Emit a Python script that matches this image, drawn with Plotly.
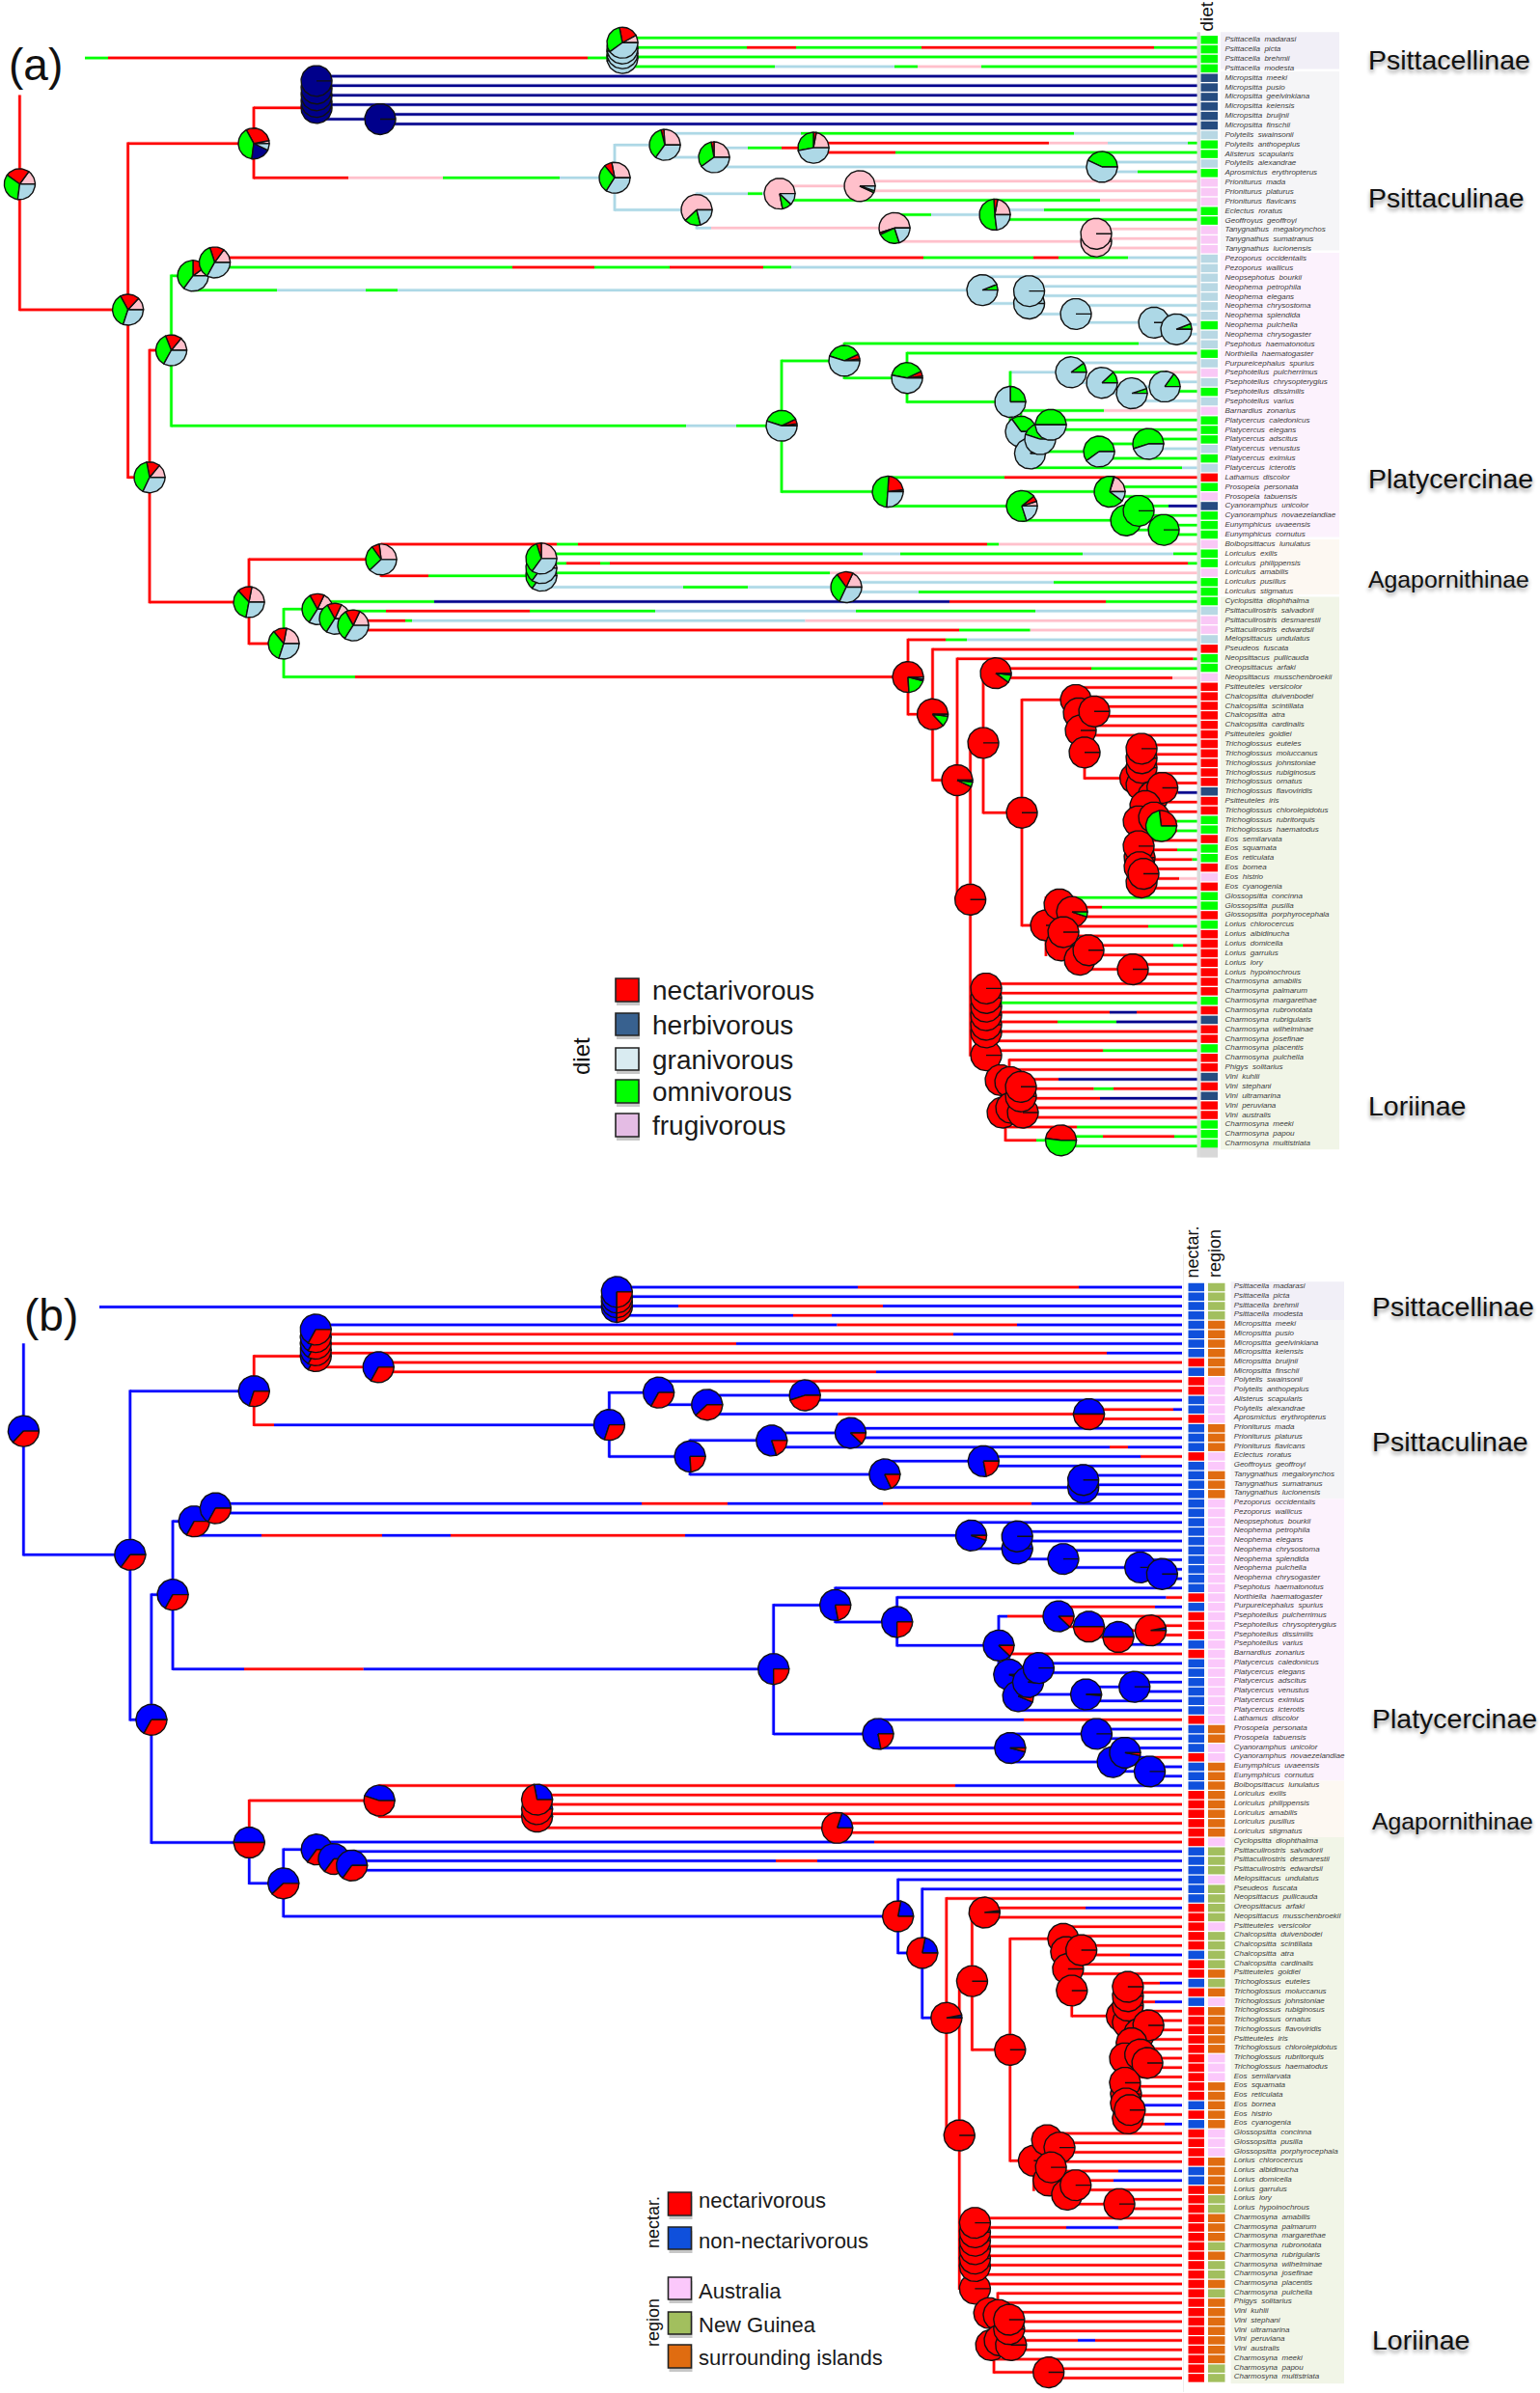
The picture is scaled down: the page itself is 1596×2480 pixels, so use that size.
import math
import plotly.graph_objects as go

# ---------- tips ----------
tip_names = """Psittacella madarasi|Psittacella picta|Psittacella brehmii|Psittacella modesta|Micropsitta meeki|Micropsitta pusio|Micropsitta geelvinkiana|Micropsitta keiensis|Micropsitta bruijnii|Micropsitta finschii|Polytelis swainsonii|Polytelis anthopeplus|Alisterus scapularis|Polytelis alexandrae|Aprosmictus erythropterus|Prioniturus mada|Prioniturus platurus|Prioniturus flavicans|Eclectus roratus|Geoffroyus geoffroyi|Tanygnathus megalorynchos|Tanygnathus sumatranus|Tanygnathus lucionensis|Pezoporus occidentalis|Pezoporus wallicus|Neopsephotus bourkii|Neophema petrophila|Neophema elegans|Neophema chrysostoma|Neophema splendida|Neophema pulchella|Neophema chrysogaster|Psephotus haematonotus|Northiella haematogaster|Purpureicephalus spurius|Psephotellus pulcherrimus|Psephotellus chrysopterygius|Psephotellus dissimilis|Psephotellus varius|Barnardius zonarius|Platycercus caledonicus|Platycercus elegans|Platycercus adscitus|Platycercus venustus|Platycercus eximius|Platycercus icterotis|Lathamus discolor|Prosopeia personata|Prosopeia tabuensis|Cyanoramphus unicolor|Cyanoramphus novaezelandiae|Eunymphicus uvaeensis|Eunymphicus cornutus|Bolbopsittacus lunulatus|Loriculus exilis|Loriculus philippensis|Loriculus amabilis|Loriculus pusillus|Loriculus stigmatus|Cyclopsitta diophthalma|Psittaculirostris salvadorii|Psittaculirostris desmarestii|Psittaculirostris edwardsii|Melopsittacus undulatus|Pseudeos fuscata|Neopsittacus pullicauda|Oreopsittacus arfaki|Neopsittacus musschenbroekii|Psitteuteles versicolor|Chalcopsitta duivenbodei|Chalcopsitta scintillata|Chalcopsitta atra|Chalcopsitta cardinalis|Psitteuteles goldiei|Trichoglossus euteles|Trichoglossus moluccanus|Trichoglossus johnstoniae|Trichoglossus rubiginosus|Trichoglossus ornatus|Trichoglossus flavoviridis|Psitteuteles iris|Trichoglossus chlorolepidotus|Trichoglossus rubritorquis|Trichoglossus haematodus|Eos semilarvata|Eos squamata|Eos reticulata|Eos bornea|Eos histrio|Eos cyanogenia|Glossopsitta concinna|Glossopsitta pusilla|Glossopsitta porphyrocephala|Lorius chlorocercus|Lorius albidinucha|Lorius domicella|Lorius garrulus|Lorius lory|Lorius hypoinochrous|Charmosyna amabilis|Charmosyna palmarum|Charmosyna margarethae|Charmosyna rubronotata|Charmosyna rubrigularis|Charmosyna wilhelminae|Charmosyna josefinae|Charmosyna placentis|Charmosyna pulchella|Phigys solitarius|Vini kuhlii|Vini stephani|Vini ultramarina|Vini peruviana|Vini australis|Charmosyna meeki|Charmosyna papou|Charmosyna multistriata""".split("|")

tip_diet = list("oooo" "hhhhhh" "g" "oo" "g" "o" "fff" "oo" "fff" "ggggggg" "o" "gg" "o" "g" "f" "g" "o" "g" "f"
                "ooo" "g" "o" "g" "n" "o" "f" "h" "ooo" "f" "oo" "f" "ooo" "g" "ff" "g" "n" "oo" "f"
                "nnnnnnnnnnn" "h" "nn" "oo" "n" "oo" "n" "f" "n" "oo" "n" "o" "nnnnnnn" "o" "n" "h" "nn" "o"
                "nn" "h" "n" "h" "nn" "ooo")
tip_nectar = list("bbbbbbbb" "r" "b" "rr" "bb" "r" "bbb" "r" "bbbb" "bbbbbbbbbb" "r" "b" "rrr" "b" "r" "bbbbbb" "r"
                  "bbb" "r" "bb" "b" "rrrrrr" "bbbbbb" "rrrrr" "b" "rr" "b" "r" "b" "rrrrrrrrrr" "b" "r" "b"
                  "rrrr" "bb" "rrrrrrrrrrrrrrrrrrrrr")
tip_region = list("NNNN" "SSSSSS" "AAAAA" "SSS" "AA" "SSS" + "A" * 24 + "SS" "AA" "SS" "S" "SSSSS" "A" "NNN" "A" "NNNN"
                  "A" "NNNN" "S" "N" "S" "A" "SSSSS" "AAA" "SSSSS" "AAA" "SSSS" "NN" "SSS" "N" "S" "NN" "S" "N"
                  "SSSSSSS" "NN")
tip_start = [645]*4 + [328]*4 + [394]*2 + [689, 843, 843, 1142, 1142, 891, 891, 808, 1031, 1031, 1136, 1136, 1136,
             222.5, 222.5, 1018, 1066.5, 1066.5, 1115, 1196, 1219, 1219, 875, 940, 1110, 1142, 1207, 1207, 1173, 1058,
             1089, 1089, 1190, 1190, 1139, 1067, 920, 1150, 1150, 1180, 1180, 1206, 1206, 395, 561, 561, 561, 877, 877,
             329, 347, 366, 366, 941, 966.5, 992, 1032, 1032, 1115, 1118, 1134, 1134, 1120, 1124, 1183, 1183, 1183,
             1183, 1204, 1204, 1196, 1187, 1203, 1203, 1180, 1181, 1181, 1185, 1185, 1183, 1098, 1111, 1111, 1102, 1102,
             1128, 1128, 1174, 1174] + [1022]*8 + [1046, 1046, 1058, 1058, 1058, 1060, 1060, 1042, 1099.5, 1099.5]

# colour along each tip branch: letter = state, number = time where the state ends
tip_state_a = ["g", "g774 r825 g955 r1196 g", "g", "g803 l927 g951 p1017 g"] + ["n"]*6 + [
    "l830 g1113 l", "r1087 p1148 l1231 g", "r928 g", "l", "l1179 g", "p", "p", "g1140 p", "l1082 g", "g", "p", "p", "p",
    "r957 g1071 r1097 g1169 l", "g531 r616 g694 r791 g820 l"] + ["l"]*7 + [
    "g1180 l", "g", "l", "g1206 p", "l", "g", "l", "g1144 p", "g", "g", "g", "l", "g", "g1225 l", "g1041 r", "g", "g",
    "g1211 n", "g", "g", "g", "r577 g599 r1023 g1035 p", "g894 l933 g1122 l1216 g", "g587 r622 g632 r1231 g", "g860 p",
    "l1092 g", "l952 g", "g450 n984 r1146 g", "g400 r549 g679 l887 g1073 l", "r420 g427 l834.5 p", "r994 g1067.5 p",
    "r980 g1002 l", "r", "r1236.5 g", "r1131 g", "r1215 p"] + ["r"]*11 + [
    "r1221 n", "r", "r", "r1220 g", "r1220 g", "r", "r1220 g", "r1235.5 g", "r", "r1222 p", "r", "r1116 g", "r1142 g", "r",
    "r1190 g", "r", "r1216 g1226 r", "r", "r", "r", "r", "r", "g", "r1150 n1178 r", "r1096 g1157 n", "r", "r", "r1143 g",
    "r", "r", "r1097 n", "r1133.5 g1154 r", "r1140 n", "r", "r", "r1116 g", "g1143 r1217 g", "g"]
tip_state_b = ["b889 r1118 b", "b", "b703 r915 b", "b822 r862 b", "b867.5 r1054 b", "r988 b", "r763 b", "r1147 b", "r",
    "r908 b", "b798 r", "r", "b", "r1216 b", "r", "b", "b", "b1150 r1169 b", "b1182 r", "b", "b", "b", "b",
    "b665 r754 b915 r1069 b"] + ["b"]*9 + ["b1208.6 r", "r1197 b", "r", "r", "r", "b", "r"] + ["b"]*6 + [
    "b1061 r", "b", "b", "b", "b1196 r", "b", "b", "r990 b", "r", "r", "r", "r", "r", "b906 r", "b", "b804 r847 b",
    "b", "b", "b", "r", "r1125 b", "r", "r", "r", "r", "r1171 b", "r", "r", "r1202 b", "r", "r1197 b"] + ["r"]*10 + [
    "r1182 b", "r", "r1207 b", "r", "r", "r", "r", "r1159 b", "r1154 b", "r", "r", "r", "r", "r1105 b1159 r"] + ["r"]*11 + [
    "r1117 b1135 r", "r", "r", "r", "r"]

# internal horizontal branches: t, start, end, state panel a, state panel b
branches = [
    (2.1, 88, 645, "g112 r609 g", None), (2.1, 100.2, 645, None, "b"),
    (28.45, 20.4, 132.6, "r", "b"), (11.05, 132.6, 263, "r", "b"), (7.33, 263, 328, "r", "r"),
    (8.5, 328, 394, "n", "r"), (14.64, 263, 637, "r361 p459 g580 l", "r284 b"), (11.2, 637, 689, "l", "b"),
    (18, 637, 722, "l", "b"), (12.5, 689, 740, "l", "b"), (11.5, 740, 843, "l775 g810 r", "b"),
    (13.5, 740, 1142, "l", "b868.5 r1115 b"), (16.3, 722, 808, "l775 g790 l", "b"), (19.9, 722, 927, "l737 p", "b"),
    (15.5, 808, 891, "p", "b"), (18.5, 927, 1031, "g965 l", "b"), (21.3, 927, 1136, "p", "b"),
    (46, 132.6, 155, "r", "b"), (32.7, 155, 177.5, "r", "b"), (59.06, 155, 258, "r", "b"), (24.9, 177.5, 200, "g", "b"),
    (40.6, 177.5, 810, "g711 l763 g", "b253 r376.5 b"), (23.5, 200, 222.5, "g", "b"),
    (26.4, 200, 1018, "g287 l379 g412 l", "b271 r396 b467 r710 b"), (27.8, 1018, 1066.5, "l", "b"),
    (28.9, 1066.5, 1115, "l", "b"), (29.8, 1115, 1196, "l", "b"), (30.5, 1196, 1219, "l", "b"),
    (33.8, 810, 875, "g", "b"), (47.5, 810, 920, "g", "b"), (35.6, 875, 940, "g", "b"), (38.1, 940, 1047, "g", "b"),
    (35, 1047, 1110, "l", "b1044 r"), (41.2, 1047, 1058, "g", "b"), (36.1, 1110, 1142, "l", "r"),
    (37.2, 1142, 1173, "l", "r"), (36.5, 1173, 1207, "l", "r"), (43.5, 1058, 1067, "g", "b"), (42, 1067, 1078, "g", "b"),
    (40.5, 1078, 1089, "g", "b"), (43.3, 1078, 1139, "g", "b"), (42.5, 1139, 1190, "g", "b"), (49, 920, 1059, "g", "b"),
    (47.5, 1059, 1150, "g", "b"), (50.5, 1059, 1167, "g", "b"), (49.5, 1167, 1180, "g", "b"), (51.5, 1167, 1206, "g", "b"),
    (54.6, 258, 395, "r", "r"), (56.3, 395, 561, "r444 g", "r"), (63.4, 258, 294, "r", "b"),
    (57.5, 561, 877, "l708 g775 l", "r"), (59.8, 294, 329, "g", "b"), (66.9, 294, 941, "g368 r", "b"),
    (60.8, 329, 347, "g", "b"), (61.5, 347, 366, "g", "b"), (70.8, 941, 966.5, "r", "b"), (77.7, 966.5, 992, "r", "b"),
    (90.2, 992, 1005.6, "r", "r"), (73.8, 1005.6, 1019, "r", "r"), (66.5, 1019, 1032, "r", "r"), (81.1, 1019, 1059, "r", "r"),
    (69.3, 1059, 1115, "r", "r"), (92.9, 1059, 1084, "r", "r"), (77.5, 1124, 1176, "r", "r"), (97.5, 1119, 1174, "r", "r"),
    (106.5, 1005.6, 1022, "r", "r"), (115.4, 1042, 1099.5, "r1074 g", "r"),
]
# vertical branches: time, t0, t1, colour panel a, colour panel b
verticals = [
    (20.4, 6.1, 28.45, "r", "b"), (132.6, 11.05, 46, "r", "b"), (263, 7.33, 14.64, "r", "r"), (328, 4, 8.5, "n", "r"),
    (394, 8, 9, "n", "r"), (645, 0, 3, "g", "b"), (637, 11.2, 18, "l", "b"), (689, 10, 12.5, "l", "b"),
    (740, 11.5, 13.5, "l", "b"), (843, 11, 12, "l", "b"), (1142, 13, 14, "l", "b"), (722, 16.3, 19.9, "l", "b"),
    (808, 15.5, 17, "p", "b"), (891, 15, 16, "p", "b"), (927, 18.5, 21.3, "l", "b"), (1031, 18, 19, "l", "b"),
    (1136, 20, 22, "p", "b"), (155, 32.7, 59.06, "r", "b"), (177.5, 24.9, 40.6, "g", "b"), (200, 23.5, 26.4, "g", "b"),
    (222.5, 23, 24, "g", "b"), (1018, 25, 27.8, "l", "b"), (1066.5, 26.5, 28.9, "l", "b"), (1066.5, 26, 27, "l", "b"),
    (1115, 28, 29.8, "l", "b"), (1196, 29, 30.5, "l", "b"), (1219, 30, 31, "l", "b"), (810, 33.8, 47.5, "g", "b"),
    (875, 32, 35.6, "g", "b"), (940, 33, 38.1, "g", "b"), (1047, 35, 41.2, "g", "b"), (1110, 34, 36.1, "l", "b"),
    (1142, 35, 37.2, "l", "r"), (1173, 36.5, 38, "l", "r"), (1207, 36, 37, "l", "r"), (1058, 39, 43.5, "g", "b"),
    (1067, 42, 45, "g", "b"), (1078, 40.5, 43.3, "g", "b"), (1089, 40, 41, "g", "b"), (1139, 42.5, 44, "g", "b"),
    (1190, 42, 43, "g", "b"), (920, 46, 49, "g", "b"), (1059, 47.5, 50.5, "g", "b"), (1150, 47, 48, "g", "b"),
    (1167, 49.5, 51.5, "g", "b"), (1180, 49, 50, "g", "b"), (1206, 51, 52, "g", "b"), (258, 54.6, 59.06, "r", "r"),
    (258, 59.06, 63.4, "r", "b"), (395, 53, 56.3, "r", "r"), (561, 54, 57.5, "g", "r"), (877, 57, 58, "l", "r"),
    (294, 59.8, 66.9, "g", "b"), (329, 59, 60.8, "g", "b"), (347, 60, 61.5, "g", "b"), (366, 61, 62, "r", "b"),
    (941, 63, 70.8, "r", "b"), (966.5, 64, 77.7, "r", "b"), (992, 65, 90.2, "r", "r"), (1005.6, 73.8, 106.5, "r", "r"),
    (1019, 66.5, 81.1, "r", "r"), (1032, 66, 67, "r", "r"), (1059, 69.3, 92.9, "r", "r"), (1115, 68, 70, "r", "r"),
    (1124, 73, 77.5, "r", "r"), (1183, 74, 89, "r", "r"), (1084, 90, 96, "r", "r"), (1174, 97, 98, "r", "r"),
    (1128, 95, 96, "r", "r"), (1111, 91, 92, "r", "r"), (1022, 99, 107, "r", "r"), (1042, 112.5, 115.4, "r", "r"),
    (1046, 107, 112, "r", "r"), (1058, 109, 114, "r", "r"), (1099.5, 115, 116, "g", "r"),
]

# ---------- ancestral state pies ----------
MIX = (.14, .17, .36, 0, .33)
NAVY = (0, 0, 0, 1, 0)
PINK = (1, 0, 0, 0, 0)
LB = (0, 0, 0, 0, 1)
GRN = (0, 0, 1, 0, 0)
RED = (0, 1, 0, 0, 0)
node_x = [645, 645, 645, 645, 328, 328, 328, 328, 328, 394,
          20.4, 132.6, 263, 637, 689, 740, 843, 1142, 722, 808, 891, 927, 1031, 1136, 1136,
          155, 177.5, 200, 222.5, 1018, 1066.5, 1066.5, 1115, 1196, 1219,
          810, 875, 940, 1047, 1110, 1142, 1173, 1207, 1058, 1067.5, 1078, 1089, 1139, 1190,
          920, 1059, 1150, 1167, 1180, 1206,
          258, 395, 561, 561, 561, 877, 294, 329, 347, 366,
          941, 966.5, 992, 1032, 1019, 1005.6, 1059,
          1115, 1118, 1120, 1124, 1134,
          1176.6, 1183, 1183, 1183, 1183, 1195, 1204.6, 1187, 1180, 1196, 1203.5, 1181, 1180, 1183, 1181, 1185,
          1084, 1098, 1111, 1099.5, 1102, 1119, 1128, 1174,
          1022, 1022, 1022, 1022, 1022, 1022, 1022,
          1037, 1047, 1039, 1048, 1060, 1058, 1058, 1099.5]
node_t = [2.1, 1.6, 1.1, .5, 7.33, 6.7, 6, 5.3, 4.5, 8.5,
          15.3, 28.45, 11.05, 14.64, 11.2, 12.5, 11.5, 13.5, 18, 16.3, 15.5, 19.9, 18.5, 21.3, 20.5,
          46, 32.7, 24.9, 23.5, 26.4, 27.8, 26.5, 28.9, 29.8, 30.5,
          40.6, 33.8, 35.6, 38.1, 35, 36.1, 37.2, 36.5, 41.2, 43.5, 42, 40.5, 43.3, 42.5,
          47.5, 49, 47.5, 50.5, 49.5, 51.5,
          59.06, 54.6, 56.3, 55.5, 54.5, 57.5, 63.4, 59.8, 60.8, 61.5,
          66.9, 70.8, 77.7, 66.5, 73.8, 90.2, 81.1,
          69.3, 70.7, 72.5, 74.8, 70.5,
          77.5, 78.2, 76.4, 75.4, 74.4, 79.4, 78.5, 80.4, 82, 81.6, 82.5, 85.8, 84.6, 88.4, 86.8, 87.5,
          92.9, 90.7, 91.5, 95, 93.6, 96.5, 95.5, 97.5,
          106.5, 104.1, 103.3, 102.3, 101.4, 100.5, 99.5,
          109.1, 109.3, 112.5, 112, 112.5, 110.8, 109.8, 115.4]
# fractions counter-clockwise from east: frugivorous, nectarivorous, omnivorous, herbivorous, granivorous
node_diet = [(.08, .15, .3, 0, .47), (.08, .15, .3, 0, .47), (.08, .15, .3, 0, .47), (.08, .2, .32, 0, .40),
             NAVY, NAVY, NAVY, NAVY, NAVY, NAVY,
             (.15, .25, .33, 0, .27), (.13, .2, .37, 0, .3), (.03, .3, .4, .2, .07), (.28, .08, .3, 0, .34),
             (.26, .03, .36, 0, .35), (.25, .03, .32, 0, .4), (.22, .03, .28, 0, .47), (0, 0, .43, 0, .57),
             (.62, 0, .17, 0, .21), (.78, 0, .1, 0, .12), (.93, 0, .02, 0, .05), (.55, .02, .23, 0, .2),
             (.22, .04, .51, 0, .23), PINK, PINK,
             (.14, .14, .4, 0, .32), MIX, (.1, .15, .4, 0, .35), (.15, .15, .37, 0, .33),
             (0, 0, .06, 0, .94), LB, LB, LB, LB, (0, 0, .06, 0, .94),
             (.02, .05, .38, 0, .55), (.02, .05, .38, 0, .55), (.02, .05, .40, 0, .53), (0, 0, .25, 0, .75),
             (0, 0, .1, 0, .9), (0, 0, .12, 0, .88), (0, 0, .05, 0, .95), (0, 0, .15, 0, .85),
             (0, 0, .35, 0, .65), (0, 0, .1, 0, .9), (0, 0, .45, 0, .55), (0, 0, .5, 0, .5), (0, 0, .6, 0, .4), (0, 0, .55, 0, .45),
             (.02, .22, .5, 0, .26), (.05, .06, .69, 0, .2), (.2, .01, .69, 0, .1), GRN, GRN, GRN,
             (.22, .15, .35, 0, .28), (.27, .08, .27, 0, .38), (.2, .1, .35, 0, .35), (.2, .1, .35, 0, .35), (.25, .05, .35, 0, .35),
             (.18, .17, .33, 0, .32), (.22, .14, .34, 0, .30), (.18, .15, .33, 0, .34), (.18, .15, .33, 0, .34), (.18, .15, .33, 0, .34),
             (0, .76, .2, .02, .02), (0, .87, .11, 0, .02), (0, .93, .05, .02, 0), (0, .9, .08, .02, 0), RED, RED, RED,
             RED, RED, RED, RED, RED,
             RED, RED, RED, RED, RED, RED, RED, RED, RED, RED, (0, .27, .73, 0, 0), RED, RED, RED, RED, RED,
             RED, RED, (0, .95, .05, 0, 0), RED, RED, RED, RED, RED,
             RED, RED, RED, RED, RED, RED, RED,
             RED, RED, RED, RED, RED, RED, RED, (0, .48, .52, 0, 0)]
# nectarivorous fraction, drawn after the non-nectarivorous one
node_red = [.25, .25, .25, .25, .33, .33, .33, .33, .33, .33,
            .37, .35, .3, .3, .33, .38, .45, .5, .24, .2, .12, .18, .22, 0, 0,
            .33, .33, .33, .33, .05, 0, 0, 0, 0, 0,
            .25, .22, .25, .12, .12, .5, .5, .97, .05, .06, .01, 0, .01, 0,
            .22, .04, 0, 0, .03, 0,
            .5, .55, .72, .72, .72, .8, .38, .35, .35, .35,
            .78, .78, .97, .98] + [1] * 47

assert len(tip_names) == len(tip_diet) == len(tip_nectar) == len(tip_region) == len(tip_start) == len(tip_state_a) == len(tip_state_b) == 117, (
    len(tip_names), len(tip_diet), len(tip_nectar), len(tip_region), len(tip_start), len(tip_state_a), len(tip_state_b))
assert len(node_x) == len(node_t) == len(node_diet) == len(node_red), (len(node_x), len(node_t), len(node_diet), len(node_red))

group_bounds = [-0.6, 3.5, 22.5, 52.5, 58.5, 116.6]
group_fill = ["#f1eff7", "#f5f5f7", "#fcf2fd", "#fdf8f2", "#f1f5e7"]
group_names = ["Psittacellinae", "Psittaculinae", "Platycercinae", "Agapornithinae", "Loriinae"]
diet_legend = ["nectarivorous", "herbivorous", "granivorous", "omnivorous", "frugivorous"]
nectar_legend = ["nectarivorous", "non-nectarivorous"]
region_legend = ["Australia", "New Guinea", "surrounding islands"]

# ---------- styles ----------
LINE = {"r": "#ff0000", "g": "#00ff00", "l": "#add8e6", "p": "#ffc0cb", "n": "#00008b", "b": "#0000ff"}
DIET = {"n": "#ff0000", "h": "#264c80", "g": "#b8d8e4", "o": "#00ff00", "f": "#f9c8f6"}
NECT = {"r": "#ff0000", "b": "#0f50dc"}
REGI = {"A": "#fbc8fb", "N": "#a2bf5e", "S": "#e06c10"}
DIET_ORDER = ["#ffc0cb", "#ff0000", "#00ff00", "#00008b", "#add8e6"]
FONT = "Liberation Sans"
W, H = 1596, 2480
K = 0.9844


def time_b(px):
    return 20 + (px - 24) / K


TIP_END_A, TIP_END_B = 1240.5, time_b(1225)
TA, TB = 9.9, 9.745
fig = go.Figure()
shapes, annotations = [], []


def collect(store, t, x0, x1, states, conv):
    cur = x0
    for tok in states.split():
        stop = conv(float(tok[1:])) if len(tok) > 1 else x1
        stop = min(stop, x1)
        if stop > cur:
            s = store.setdefault(tok[0], [[], []])
            s[0] += [cur, stop, None]
            s[1] += [t, t, None]
            cur = stop


def draw_tree(state_index, tip_states, tip_end, conv, xa, ya):
    store = {}
    for x, t0, t1, *cols in verticals:
        s = store.setdefault(cols[state_index], [[], []])
        s[0] += [x, x, None]
        s[1] += [t0 - 0.12, t1 + 0.12, None]
    for t, x0, x1, *cols in branches:
        if cols[state_index] is not None:
            collect(store, t, x0, x1, cols[state_index], conv)
    for i in range(117):
        collect(store, i, tip_start[i], tip_end, tip_states[i], conv)
    for c in ["l", "p", "g", "b", "n", "r"]:
        if c in store:
            # soft edge, as in the slightly blurred original, then the line itself
            fig.add_trace(go.Scatter(x=store[c][0], y=store[c][1], mode="lines", xaxis=xa, yaxis=ya,
                                     line=dict(color=LINE[c], width=4), hoverinfo="skip", opacity=0.22))
            fig.add_trace(go.Scatter(x=store[c][0], y=store[c][1], mode="lines", xaxis=xa, yaxis=ya,
                                     line=dict(color=LINE[c], width=2.5), hoverinfo="skip"))


def draw_wedges(cx, cy, fracs, colors, rx, ry, xa, ya):
    start = 0.0
    for f, col in zip(fracs, colors):
        if f <= 0:
            continue
        n = max(3, int(72 * f))
        xs, ys = [cx], [cy]
        for k in range(n + 1):
            ang = 2 * math.pi * (start + f * k / n)
            xs.append(cx + rx * math.cos(ang))
            ys.append(cy - ry * math.sin(ang))
        xs.append(cx)
        ys.append(cy)
        fig.add_trace(go.Scatter(x=xs, y=ys, mode="lines", fill="toself", fillcolor=col, xaxis=xa, yaxis=ya,
                                 line=dict(color="#111111", width=1.4), hoverinfo="skip"))
        start += f


def column(values, palette, x0, x1, xa, ya, width, offset):
    for key, col in palette.items():
        xs, ys = [], []
        for i, v in enumerate(values):
            if v == key:
                xs += [x0, x1, None]
                ys += [i + offset(i), i + offset(i), None]
        fig.add_trace(go.Scatter(x=xs, y=ys, mode="lines", xaxis=xa, yaxis=ya, line=dict(color=col, width=width),
                                 hoverinfo="skip"))


def names_trace(x, offset, xa, ya):
    fig.add_trace(go.Scatter(x=[x]*117, y=[i + offset(i) for i in range(117)], mode="text", xaxis=xa, yaxis=ya,
                             text=[n.replace(" ", "\u00a0\u00a0") for n in tip_names], textposition="middle right",
                             textfont=dict(family=FONT, size=8, color="#3c3c3c", style="italic"), hoverinfo="skip"))


def ptext(x, y, text, size, anchor="left", angle=0, shadow=None, color="#111111"):
    font = dict(family=FONT, size=size, color=color)
    if shadow:
        font["shadow"] = shadow
    annotations.append(dict(x=x / W, y=1 - y / H, xref="paper", yref="paper", text=text, showarrow=False, font=font,
                            xanchor=anchor, yanchor="middle", textangle=angle))


def swatch(x0, y0, x1, y1, col):
    shapes.append(dict(type="rect", xref="paper", yref="paper", x0=(x0 + 1) / W, x1=(x1 + 1) / W, y0=1 - (y0 + 4) / H,
                       y1=1 - (y1 + 4) / H, fillcolor="rgba(0,0,0,.22)", line=dict(width=0), layer="above"))
    shapes.append(dict(type="rect", xref="paper", yref="paper", x0=x0 / W, x1=x1 / W, y0=1 - y0 / H, y1=1 - y1 / H,
                       fillcolor=col, line=dict(color="#222222", width=1.6), layer="above"))


# group background bands
for i, col in enumerate(group_fill):
    shapes.append(dict(type="rect", xref="x", yref="y", x0=1265, x1=1388, y0=group_bounds[i], y1=group_bounds[i+1] - 0.25,
                       fillcolor=col, line=dict(width=0), layer="below"))
    shapes.append(dict(type="rect", xref="x2", yref="y2", x0=time_b(1275.6), x1=time_b(1393), y0=group_bounds[i],
                       y1=group_bounds[i+1], fillcolor=col, line=dict(width=0), layer="below"))
shapes.append(dict(type="rect", xref="x", yref="y", x0=1240.5, x1=1244, y0=-0.6, y1=117.2, fillcolor="#dcdcdc",
                   line=dict(width=0), layer="below"))
shapes.append(dict(type="rect", xref="x", yref="y", x0=1244, x1=1262, y0=116, y1=117.2, fillcolor="#d8d8d8",
                   line=dict(width=0), layer="below"))
shapes.append(dict(type="rect", xref="x2", yref="y2", x0=time_b(1226), x1=time_b(1227), y0=-3.5, y1=117.5,
                   fillcolor="#ececec", line=dict(width=0), layer="below"))


def off_a(i):
    return 0.2 - 0.004 * i


def off_b_label(i):
    return -0.1


def off_b_col(i):
    return 0


# panel a
draw_tree(0, tip_state_a, TIP_END_A, lambda v: v, "x", "y")
column(tip_diet, DIET, 1244.5, 1262, "x", "y", 8.5, off_a)
names_trace(1269.5, off_a, "x", "y")
for x, t, d in zip(node_x, node_t, node_diet):
    draw_wedges(x, t, d, DIET_ORDER, 16, 16 / TA, "x", "y")

# panel b
draw_tree(1, tip_state_b, TIP_END_B, time_b, "x2", "y2")
column(tip_nectar, NECT, time_b(1231.5), time_b(1248), "x2", "y2", 8.5, off_b_col)
column(tip_region, REGI, time_b(1252), time_b(1269.5), "x2", "y2", 8.5, off_b_col)
names_trace(time_b(1278.7), off_b_label, "x2", "y2")
for x, t, r in zip(node_x, node_t, node_red):
    draw_wedges(x, t, (1 - r, r), ["#0000ff", "#ff0000"], 16 / K, 16 / TB, "x2", "y2")

# text
SH = "0px 3px 4px rgba(0,0,0,.45)"
group_sizes = [28.5, 28.5, 28.5, 24.8, 28.5]
for name, y, s in zip(group_names, [62, 205, 496, 601, 1146], group_sizes):
    ptext(1415.5, y, name, s, shadow=SH)
for name, y, s in zip(group_names, [1354, 1494, 1781, 1887, 2425], group_sizes):
    ptext(1420, y, name, s, shadow=SH)
ptext(37, 67, "(a)", 46, anchor="center")
ptext(53, 1363, "(b)", 46, anchor="center")
ptext(1250.5, 17, "diet", 19, anchor="center", angle=-90)
ptext(1235.5, 1298, "nectar.", 18, anchor="center", angle=-90)
ptext(1259, 1299, "region", 18, anchor="center", angle=-90)

# legends
for name, col, box, yt in zip(diet_legend, ["#ff0000", "#38618f", "#d9ebf1", "#00ff00", "#e4bce4"],
                              [(1014, 1038), (1050, 1073), (1086, 1109), (1119, 1143), (1154, 1178)],
                              [1026, 1062, 1098, 1131, 1166]):
    swatch(638, box[0], 662, box[1], col)
    ptext(674, yt, name, 28, color="#1a1a1a")
ptext(602, 1095, "diet", 24, anchor="center", angle=-90)
for name, col, box, yt in zip(nectar_legend + region_legend, ["#ff0000", "#0f50dc", "#fbc8fb", "#a2bf5e", "#e06c10"],
                              [(2272, 2296), (2308, 2331), (2360, 2383), (2396, 2419), (2430, 2454)],
                              [2280, 2322, 2374, 2409, 2443]):
    swatch(692.5, box[0], 716.5, box[1], col)
    ptext(722, yt, name, 22, color="#1a1a1a")
ptext(677, 2303, "nectar.", 18, anchor="center", angle=-90)
ptext(677, 2407, "region", 18, anchor="center", angle=-90)

hidden = dict(visible=False, showgrid=False, zeroline=False)
fig.update_layout(
    width=W, height=H, margin=dict(l=0, r=0, t=0, b=0), showlegend=False, autosize=False,
    paper_bgcolor="white", plot_bgcolor="white", shapes=shapes, annotations=annotations,
    xaxis=dict(range=[0, W], domain=[0, 1], anchor="y", **hidden),
    yaxis=dict(range=[(1240 - 39.3) / TA, -39.3 / TA], domain=[0.5, 1], anchor="x", **hidden),
    xaxis2=dict(range=[time_b(0), time_b(W)], domain=[0, 1], anchor="y2", **hidden),
    yaxis2=dict(range=[(2480 - 1334) / TB, (1240 - 1334) / TB], domain=[0, 0.5], anchor="x2", **hidden),
)
fig.write_html("out.html", config={"displayModeBar": False},
               post_script="document.body.style.margin='0';document.body.style.overflow='hidden';")
